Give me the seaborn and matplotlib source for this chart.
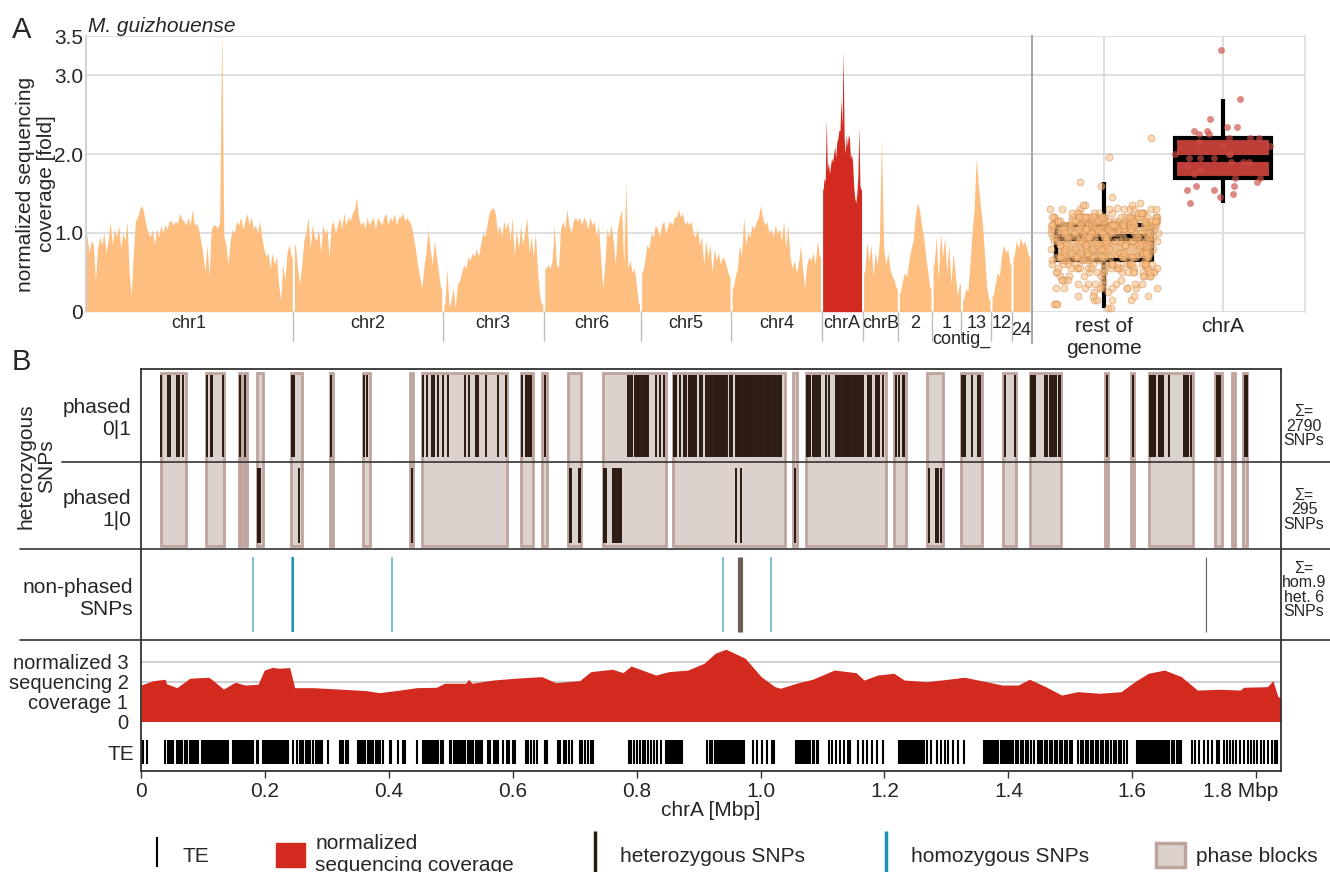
import matplotlib.pyplot as plt
import matplotlib.transforms as mtransforms
from matplotlib import font_manager
from matplotlib.colors import to_rgba
from matplotlib.lines import Line2D
from matplotlib.patches import Patch, Rectangle
import numpy as np
import pandas as pd
import seaborn as sns


# 1. Data - panel A: normalized coverage per window (100 kb, chrA 50 kb)

chrom_labels = ["chr1", "chr2", "chr3", "chr6", "chr5", "chr4", "chrA", "chrB",
                "2", "1", "13", "12", "24"]
chrom_window = [0.1, 0.1, 0.1, 0.1, 0.1, 0.1, 0.05, 0.1, 0.1, 0.1, 0.1, 0.1, 0.1]

cov_chr1 = [0.95, 0.75, 0.9, 0.85, 0.4, 0.8, 0.95, 0.85, 1.0, 0.75,
            0.9, 1.15, 0.85, 1.05, 0.95, 1.1, 0.8, 1.0, 0.9, 1.15,
            0.5, 0.2, 0.75, 1.15, 1.2, 1.3, 1.35, 1.25, 1.1, 1.0,
            0.95, 1.05, 0.85, 1.05, 0.95, 1.1, 1.0, 1.1, 1.05, 1.15,
            1.15, 1.1, 1.15, 1.12, 1.25, 1.18, 1.15, 1.1, 1.2, 1.1,
            1.3, 1.1, 1.12, 1.05, 0.9, 0.75, 0.5, 0.85, 0.45, 1.05,
            1.1, 1.1, 1.05, 1.15, 3.6, 0.95, 0.85, 0.6, 0.9, 1.05,
            1.0, 1.15, 1.1, 1.2, 1.05, 1.15, 1.25, 1.1, 1.2, 1.05,
            1.1, 1.0, 1.15, 0.95, 0.8, 0.7, 0.75, 0.55, 0.75, 0.6,
            0.7, 0.35, 0.15, 0.6, 0.4, 0.75, 0.85, 0.7]
cov_chr2 = [0.85, 0.55, 0.35, 0.6, 0.9, 1.0, 1.2, 0.8, 1.1, 0.95,
            0.9, 1.05, 0.75, 1.1, 1.0, 1.05, 0.7, 1.1, 1.15, 1.0,
            1.1, 1.2, 1.05, 1.25, 1.1, 1.2, 1.15, 1.25, 1.3, 1.45,
            1.2, 1.1, 1.15, 1.05, 1.2, 1.1, 1.15, 1.2, 1.05, 1.2,
            1.15, 1.1, 1.2, 1.25, 1.1, 1.2, 1.15, 1.25, 1.1, 1.2,
            1.2, 1.25, 1.15, 1.2, 1.15, 1.1, 0.95, 0.8, 0.6, 0.45,
            0.3, 0.55, 0.75, 1.05, 0.8, 0.6, 0.9, 0.7, 0.5, 0.3]
cov_chr3 = [0.1, 0.55, 0.05, 0.15, 0.3, 0.05, 0.35, 0.4, 0.5, 0.6,
            0.55, 0.7, 0.65, 0.75, 0.7, 0.8, 0.7, 0.85, 1.0, 0.95,
            1.1, 1.25, 1.3, 1.32, 1.25, 1.0, 1.1, 0.95, 1.15, 1.05,
            1.15, 0.9, 1.2, 0.7, 1.05, 0.8, 1.1, 0.85, 1.0, 1.2,
            0.75, 0.95, 0.7, 1.0, 0.55, 0.2, 0.1]
cov_chr6 = [0.55, 0.6, 0.55, 0.65, 1.1, 0.6, 0.55, 1.05, 1.15, 1.05,
            1.3, 1.1, 1.0, 1.15, 1.2, 1.15, 1.2, 1.1, 1.2, 1.15,
            1.05, 1.2, 1.1, 1.15, 0.95, 1.1, 0.7, 0.3, 0.6, 1.05,
            0.95, 1.1, 0.9, 0.6, 1.05, 1.2, 1.3, 0.6, 1.65, 0.55,
            0.65, 0.5, 0.55, 0.35, 0.1]
cov_chr5 = [0.5, 0.65, 0.85, 0.8, 1.0, 0.95, 1.1, 1.05, 0.95, 1.1,
            1.15, 1.0, 1.1, 1.15, 1.1, 1.2, 1.2, 1.3, 1.2, 1.25,
            1.1, 1.15, 1.1, 1.15, 1.0, 0.95, 1.05, 0.85, 0.95, 0.6,
            0.9, 0.7, 0.85, 0.5, 0.8, 0.65, 0.75, 0.6, 0.7, 0.65,
            0.55, 0.45]
cov_chr4 = [0.3, 0.45, 0.55, 0.85, 0.7, 1.2, 0.85, 1.0, 0.95, 1.1,
            1.05, 1.15, 1.2, 1.35, 1.2, 1.1, 1.15, 1.0, 1.05, 0.95,
            1.1, 1.0, 1.05, 0.9, 1.15, 0.8, 1.1, 0.7, 0.55, 0.65,
            0.5, 0.6, 0.85, 0.55, 0.3, 0.6, 0.7, 0.65, 0.75, 0.6,
            0.9, 0.7]
cov_chrA = [1.55, 1.7, 1.65, 2.45, 1.8, 1.9, 1.75, 1.85, 1.95, 1.9,
            2.0, 2.1, 1.95, 2.15, 2.2, 2.3, 2.3, 2.7, 2.35, 3.32,
            2.2, 2.0, 2.25, 2.1, 2.25, 2.2, 1.95, 2.0, 1.9, 1.6,
            1.45, 1.38, 1.5, 1.7, 2.35, 1.6, 1.55]
cov_chrB = [0.5, 0.9, 0.65, 0.85, 0.45, 0.75, 0.6, 0.9, 2.2, 0.8,
            0.6, 0.75, 0.55, 0.45, 0.4, 0.3]
cov_contig2 = [0.25, 0.4, 0.5, 0.45, 0.65, 0.8, 0.9, 1.2, 1.38, 1.3,
               1.1, 0.95, 0.7, 0.5, 0.3]
cov_contig1 = [0.6, 0.95, 0.4, 1.0, 0.7, 0.95, 0.5, 0.85, 0.35, 0.75,
               0.5, 0.2, 0.35]
cov_contig13 = [0.15, 0.3, 0.25, 0.6, 1.0, 1.3, 1.96, 1.6, 1.35, 1.1,
                0.7, 0.3, 0.15]
cov_contig12 = [0.2, 0.35, 0.5, 0.45, 0.7, 0.85, 0.75, 0.8, 0.6]
cov_contig24 = [0.7, 0.9, 0.8, 0.95, 0.85, 0.9, 0.8, 0.7]

chrom_cov = [cov_chr1, cov_chr2, cov_chr3, cov_chr6, cov_chr5, cov_chr4, cov_chrA,
             cov_chrB, cov_contig2, cov_contig1, cov_contig13, cov_contig12, cov_contig24]

genome_ticks = [0, 1, 2, 3, 3.5]
genome_tick_labels = ["0", "1.0", "2.0", "3.0", "3.5"]
box_order = ["rest of\ngenome", "chrA"]


# 2. Data - panel B: chrA (positions in Mbp)

block_start = [0.032, 0.105, 0.158, 0.166, 0.187, 0.242, 0.305, 0.358, 0.434, 0.453,
               0.613, 0.648, 0.690, 0.745, 0.858, 1.053, 1.073, 1.216, 1.269, 1.324,
               1.392, 1.435, 1.556, 1.598, 1.627, 1.734, 1.761, 1.779]
block_end = [0.073, 0.134, 0.161, 0.171, 0.197, 0.260, 0.310, 0.369, 0.439, 0.590,
             0.632, 0.655, 0.710, 0.847, 1.040, 1.058, 1.203, 1.235, 1.294, 1.358,
             1.413, 1.485, 1.561, 1.603, 1.698, 1.744, 1.765, 1.785]

snp_phased_01 = [
    0.0323, 0.0435, 0.0460, 0.0581, 0.0613, 0.0677,
    0.1069, 0.1129, 0.1140, 0.1150, 0.1318, 0.1597, 0.1682,
    0.2435, 0.2452, 0.2468, 0.3065, 0.3597, 0.3640,
    0.4553, 0.4624, 0.4689, 0.4726, 0.4795, 0.4876, 0.4956, 0.5226, 0.5295, 0.5403,
    0.5440, 0.5565, 0.5763, 0.5887,
    0.6156, 0.6210, 0.6234, 0.6258, 0.6274, 0.6302, 0.6516,
    0.7860, 0.7887, 0.7931, 0.7968, 0.8000, 0.8019, 0.8037, 0.8076, 0.8102, 0.8129,
    0.8156, 0.8182, 0.8306, 0.8371, 0.8440,
    0.8597, 0.8618, 0.8640, 0.8694, 0.8763, 0.8802, 0.8844, 0.8868, 0.8892, 0.8916,
    0.8940, 0.8963, 0.9016, 0.9060, 0.9124, 0.9150, 0.9177, 0.9205, 0.9231, 0.9258,
    0.9282, 0.9306, 0.9331, 0.9355, 0.9379, 0.9403, 0.9431, 0.9456, 0.9500, 0.9544,
    0.9597, 0.9618, 0.9640, 0.9661, 0.9689, 0.9715, 0.9742, 0.9769, 0.9794, 0.9818,
    0.9842, 0.9866, 0.9890, 0.9915, 0.9939, 0.9963, 0.9987, 1.0011, 1.0037, 1.0065,
    1.0092, 1.0118, 1.0145, 1.0173, 1.0198, 1.0226, 1.0253, 1.0279, 1.0306, 1.0334,
    1.0747, 1.0769, 1.0790, 1.0844, 1.0868, 1.0892, 1.0916, 1.0940, 1.0963, 1.1060,
    1.1102, 1.1221, 1.1242, 1.1263, 1.1302, 1.1327, 1.1355, 1.1382, 1.1408, 1.1435,
    1.1463, 1.1489, 1.1516, 1.1544, 1.1569, 1.1597, 1.1624, 1.1650, 1.1731, 1.1758,
    1.1785, 1.1866, 1.1892, 1.1919, 1.1973,
    1.2189, 1.2242, 1.2295, 1.2323,
    1.3253, 1.3279, 1.3306, 1.3415, 1.3511, 1.3544, 1.3940, 1.4113,
    1.4371, 1.4392, 1.4415, 1.4435, 1.4592, 1.4618, 1.4673, 1.4697, 1.4721, 1.4745,
    1.4769, 1.4811, 1.4839, 1.5585, 1.6005,
    1.6285, 1.6306, 1.6329, 1.6350, 1.6371, 1.6424, 1.6445, 1.6468, 1.6489, 1.6585,
    1.6839, 1.6860, 1.6881, 1.6898, 1.6947, 1.7371, 1.7395, 1.7415, 1.7823, 1.7847]
snp_phased_10 = [0.1895, 0.1911, 0.1927, 0.2553, 0.4366, 0.6931, 0.6940, 0.7069, 0.7078,
                 0.7468, 0.7500, 0.7618, 0.7645, 0.7673, 0.7698, 0.7726, 0.7753,
                 0.9608, 0.9689, 1.0548, 1.2715, 1.2834, 1.2866, 1.2919]
snp_hom = [0.1806, 0.2444, 0.2448, 0.2452, 0.2456, 0.2460, 0.4048, 0.9387, 1.0161]
snp_het_unphased = [0.9629, 0.9645, 0.9661, 0.9677, 0.9694, 1.7185]

cov_pos = [0.0, 0.020, 0.039, 0.041, 0.058, 0.079, 0.109, 0.114, 0.133, 0.152,
           0.168, 0.189, 0.199, 0.213, 0.221, 0.240, 0.248, 0.278, 0.326, 0.364,
           0.385, 0.418, 0.445, 0.477, 0.490, 0.498, 0.524, 0.529, 0.534, 0.568,
           0.603, 0.647, 0.669, 0.708, 0.726, 0.761, 0.778, 0.791, 0.831, 0.852,
           0.883, 0.909, 0.927, 0.944, 0.975, 1.001, 1.023, 1.032, 1.058, 1.084,
           1.119, 1.154, 1.167, 1.189, 1.215, 1.232, 1.268, 1.303, 1.329, 1.364,
           1.390, 1.416, 1.434, 1.460, 1.486, 1.512, 1.547, 1.582, 1.604, 1.626,
           1.652, 1.679, 1.705, 1.740, 1.774, 1.780, 1.818, 1.827, 1.835, 1.84]
cov_val = [1.83, 2.05, 2.12, 1.9, 1.7, 2.17, 2.22, 2.12, 1.63, 1.97,
           1.83, 1.87, 2.58, 2.72, 2.67, 2.7, 1.7, 1.7, 1.62, 1.55,
           1.45, 1.58, 1.7, 1.72, 1.92, 1.92, 1.92, 2.12, 1.92, 2.08,
           2.17, 2.25, 1.95, 2.05, 2.5, 2.62, 2.45, 2.78, 2.33, 2.5,
           2.58, 2.92, 3.42, 3.62, 3.17, 2.25, 1.75, 1.67, 1.92, 2.12,
           2.58, 2.45, 2.08, 2.33, 2.42, 2.08, 2.0, 2.12, 2.22, 2.0,
           1.83, 1.83, 2.12, 1.75, 1.33, 1.5, 1.42, 1.5, 2.0, 2.42,
           2.58, 2.25, 1.58, 1.62, 1.58, 1.72, 1.75, 2.05, 1.25, 1.2]

te_pos = [
    0.001, 0.004, 0.010,
    0.039, 0.043, 0.047, 0.050, 0.052, 0.058, 0.061, 0.063, 0.066, 0.071, 0.074,
    0.079, 0.082, 0.085, 0.089, 0.092,
    0.098, 0.101, 0.105, 0.108, 0.111, 0.113, 0.116, 0.119, 0.122, 0.125, 0.128,
    0.131, 0.134, 0.137, 0.140,
    0.148, 0.152, 0.155, 0.158, 0.162, 0.165, 0.168, 0.171, 0.174, 0.177, 0.180,
    0.187, 0.189,
    0.197, 0.200, 0.203, 0.206, 0.209, 0.212, 0.215, 0.218, 0.221, 0.224, 0.227,
    0.231, 0.234, 0.238,
    0.245, 0.251, 0.256, 0.258, 0.262, 0.267, 0.270, 0.272, 0.278, 0.283, 0.286,
    0.289, 0.292, 0.302, 0.321, 0.323, 0.326, 0.331, 0.334,
    0.350, 0.353, 0.356, 0.359, 0.362, 0.366, 0.369, 0.372, 0.375, 0.379, 0.383,
    0.386, 0.390, 0.402, 0.404, 0.415, 0.423, 0.426, 0.445,
    0.455, 0.458, 0.461, 0.464, 0.467, 0.470, 0.473, 0.476, 0.480, 0.484, 0.487,
    0.498, 0.501, 0.505, 0.508, 0.511, 0.514, 0.517, 0.520, 0.523, 0.527, 0.530,
    0.533, 0.536, 0.540, 0.544, 0.547, 0.551,
    0.560, 0.564, 0.569, 0.573, 0.577, 0.585, 0.590, 0.594, 0.600, 0.603,
    0.621, 0.625, 0.630, 0.635, 0.639, 0.652, 0.656,
    0.673, 0.677, 0.682, 0.686, 0.691, 0.695, 0.708, 0.712, 0.716, 0.721, 0.726, 0.730,
    0.787, 0.791, 0.795, 0.800, 0.805, 0.810, 0.813, 0.818, 0.823, 0.828, 0.833, 0.839,
    0.848, 0.851, 0.854, 0.857, 0.860, 0.863, 0.866, 0.869, 0.872, 0.874,
    0.914, 0.918, 0.922, 0.926, 0.930, 0.933, 0.936, 0.939, 0.942, 0.945, 0.948,
    0.951, 0.954, 0.957, 0.960, 0.963, 0.966, 0.969, 0.972, 0.974,
    0.988, 0.995, 1.003, 1.010, 1.018, 1.022,
    1.058, 1.061, 1.064, 1.067, 1.070, 1.073, 1.076, 1.080, 1.084, 1.087, 1.091, 1.093,
    1.110, 1.115, 1.121, 1.128, 1.134, 1.141, 1.145,
    1.158, 1.166, 1.172, 1.180, 1.188, 1.198,
    1.224, 1.227, 1.230, 1.233, 1.236, 1.239, 1.242, 1.245, 1.248, 1.251, 1.254,
    1.257, 1.260, 1.264, 1.268, 1.275,
    1.285, 1.291, 1.297, 1.303, 1.310, 1.318, 1.329,
    1.360, 1.363, 1.366, 1.369, 1.372, 1.375, 1.378, 1.381, 1.384, 1.388, 1.392,
    1.395, 1.398, 1.401, 1.404, 1.408, 1.412, 1.416, 1.420, 1.424, 1.428, 1.432,
    1.437, 1.442,
    1.447, 1.451, 1.455, 1.459, 1.463, 1.467, 1.471, 1.475, 1.479, 1.483, 1.487,
    1.491, 1.495, 1.499, 1.503,
    1.513, 1.517, 1.521, 1.525, 1.529, 1.533, 1.537, 1.541, 1.545, 1.549, 1.553,
    1.557, 1.561, 1.566, 1.570, 1.574, 1.578, 1.582, 1.586, 1.591,
    1.608, 1.611, 1.614, 1.617, 1.620, 1.623, 1.626, 1.629, 1.632, 1.635, 1.638,
    1.641, 1.644, 1.647, 1.650, 1.653, 1.656, 1.660, 1.664, 1.668, 1.672, 1.676, 1.679,
    1.696, 1.702, 1.708, 1.715, 1.722, 1.728, 1.737, 1.740,
    1.748, 1.753, 1.758, 1.763, 1.768, 1.774, 1.780, 1.786, 1.791, 1.797, 1.802,
    1.808, 1.813, 1.819, 1.825, 1.830, 1.834]

chrA_length = 1.84
chrA_ticks = [0, 0.2, 0.4, 0.6, 0.8, 1.0, 1.2, 1.4, 1.6, 1.8]
chrA_tick_labels = ["0", "0.2", "0.4", "0.6", "0.8", "1.0", "1.2", "1.4", "1.6", "1.8 Mbp"]
cov_ticks = [0, 1, 2, 3]
cov_tick_labels = ["0", "coverage 1", "sequencing 2", "normalized 3"]


# 3. Style

ORANGE = "#fdbe80"
RED = "#d32a1f"
BLOCK_FILL = "#dbd1cd"
BLOCK_EDGE = "#bfa39d"
HET = "#2a1a10"
HOM = "#1a93b0"
FRAME = "#333333"

sns.set_theme(style="white")
plt.rcParams["font.family"] = ["Liberation Sans", "DejaVu Sans"]
installed = {f.name for f in font_manager.fontManager.ttflist}
NARROW = "Liberation Sans Narrow" if "Liberation Sans Narrow" in installed else "Liberation Sans"

W, H = 1330, 872
fig = plt.figure(figsize=(W / 100, H / 100), dpi=100)


def add_axes_px(left, top, right, bottom):
    return fig.add_axes([left / W, 1 - bottom / H, (right - left) / W, (bottom - top) / H])


def hline_px(y, x0, x1, color=FRAME, lw=1.2):
    fig.add_artist(Line2D([x0 / W, x1 / W], [1 - y / H, 1 - y / H], color=color, lw=lw))


# 4. Panel A - coverage along the genome

ax_a = add_axes_px(86, 36, 1032, 311.7)
gap = 0.1
offset = 0.0
spans = []
for label, vals, w in zip(chrom_labels, chrom_cov, chrom_window):
    n = len(vals)
    x = offset + (np.arange(n) + 0.5) * w
    xs = np.r_[offset, x, offset + n * w]
    ys = np.r_[vals[0], vals, vals[-1]]
    ax_a.fill_between(xs, 0, ys, color=RED if label == "chrA" else ORANGE, lw=0)
    spans.append((offset, offset + n * w))
    offset += n * w + gap

ax_a.set_xlim(0, offset - gap + 0.1)
ax_a.set_ylim(0, 3.5)
ax_a.set_xticks([])
ax_a.set_yticks(genome_ticks, genome_tick_labels, fontfamily=NARROW)
ax_a.tick_params(axis="y", length=0, labelsize=15, pad=2)
ax_a.yaxis.grid(True, color="#dcdcdc", lw=1.3)
ax_a.set_axisbelow(True)
for side in ["top", "right", "bottom"]:
    ax_a.spines[side].set_visible(False)
ax_a.spines["left"].set_color("#cccccc")

# chromosome names and separators under the axis
trans_a = mtransforms.blended_transform_factory(ax_a.transData, ax_a.transAxes)
for i, (label, (s, e)) in enumerate(zip(chrom_labels, spans)):
    y_lab = -0.068 if label == "24" else -0.043
    ax_a.text((s + e) / 2, y_lab, label, transform=trans_a, ha="center", va="center",
              fontsize=13)
    if i < len(spans) - 1:
        xb = e + gap / 2
        ax_a.plot([xb, xb], [0, -0.105], transform=trans_a, color="#bdbdbd", lw=1,
                  clip_on=False)
contig_mid = (spans[chrom_labels.index("1")][0] + spans[chrom_labels.index("13")][1]) / 2
ax_a.text(contig_mid, -0.1, "contig_", transform=trans_a, ha="center", va="center",
          fontsize=13)

# box plot: rest of genome vs chrA
rest_values = [v for label, vals in zip(chrom_labels, chrom_cov) if label != "chrA" for v in vals]
box_df = pd.DataFrame({
    "group": [box_order[0]] * len(rest_values) + [box_order[1]] * len(cov_chrA),
    "coverage": rest_values + cov_chrA,
})

ax_b = add_axes_px(1032, 36, 1305, 311.7)
sns.boxplot(data=box_df, x="group", y="coverage", order=box_order, hue="group",
            hue_order=box_order, palette={box_order[0]: ORANGE, box_order[1]: RED},
            width=0.8, showfliers=False, linecolor="black", linewidth=3,
            medianprops={"linewidth": 5}, capprops={"linewidth": 0},
            legend=False, ax=ax_b)
for patch in ax_b.patches:
    if np.allclose(patch.get_facecolor()[:3], to_rgba(ORANGE)[:3], atol=0.02):
        patch.set_edgecolor(ORANGE)
sns.stripplot(data=box_df[box_df["group"] == box_order[0]], x="group", y="coverage",
              order=box_order, color=ORANGE, edgecolor="#c78850", linewidth=0.6,
              size=5, alpha=0.55, jitter=0.45, ax=ax_b)
sns.stripplot(data=box_df[box_df["group"] == box_order[1]], x="group", y="coverage",
              order=box_order, color="#cc4a44", linewidth=0, size=5, alpha=0.65,
              jitter=0.42, ax=ax_b)
ax_b.set_xlim(-0.605, 1.689)
ax_b.set_ylim(0, 3.5)
ax_b.set_xlabel("")
ax_b.set_ylabel("")
ax_b.set_yticks(genome_ticks, [])
ax_b.grid(True, color="#dcdcdc", lw=1.3)
ax_b.set_axisbelow(True)
ax_b.tick_params(length=0, labelsize=15, pad=4)
ax_b.spines["top"].set_visible(False)
ax_b.spines["bottom"].set_visible(False)
ax_b.spines["right"].set_color("#dddddd")
ax_b.spines["left"].set_color("#a8a8a8")
ax_b.spines["left"].set_linewidth(1.5)
ax_b.plot([0, 0], [0, -0.115], transform=ax_b.transAxes, color="#a8a8a8", lw=1.5,
          clip_on=False)

fig.text(12 / W, 1 - 16 / H, "A", fontsize=21, va="top")
fig.text(88 / W, 1 - 32 / H, "M. guizhouense", fontsize=15, style="italic", va="baseline")
fig.text(36 / W, 1 - 184 / H, "normalized sequencing\ncoverage [fold]", fontsize=15,
         rotation=90, ha="center", va="center", linespacing=1.1)


# 5. Panel B - chrA phasing, SNPs, coverage and TEs

ax_ph = add_axes_px(141, 369, 1281, 549)
ax_np = add_axes_px(141, 549, 1281, 640)
ax_cv = add_axes_px(141, 640, 1281, 721.7)
ax_te = add_axes_px(141, 721.7, 1281, 771)

for ax in [ax_ph, ax_np, ax_cv, ax_te]:
    ax.set_xlim(0, chrA_length)
    for side in ["top", "bottom"]:
        ax.spines[side].set_visible(False)
    for side in ["left", "right"]:
        ax.spines[side].set_color(FRAME)
        ax.spines[side].set_linewidth(1.3)
    ax.tick_params(axis="y", length=0, labelsize=15)

# phase blocks with phased heterozygous SNPs
for s, e in zip(block_start, block_end):
    ax_ph.add_patch(Rectangle((s, 0.035), e - s, 1.99, facecolor=BLOCK_FILL,
                              edgecolor=BLOCK_EDGE, lw=2))
ax_ph.vlines(snp_phased_01, 1.06, 2.0, color=HET, lw=1.4)
ax_ph.vlines(snp_phased_10, 0.07, 0.93, color=HET, lw=1.4)
ax_ph.set_ylim(0, 2.07)
ax_ph.set_xticks([])
ax_ph.set_yticks([1.54, 0.5], ["phased\n0|1", "phased\n1|0"])
ax_ph.tick_params(axis="y", pad=7)
ax_ph.spines["top"].set_visible(True)
ax_ph.spines["top"].set_color(FRAME)
ax_ph.spines["top"].set_linewidth(1.3)

# non-phased SNPs
ax_np.vlines(snp_hom, 0.088, 0.912, color=HOM, lw=1.3, alpha=0.6)
ax_np.vlines(snp_het_unphased, 0.088, 0.912, color="#4a3a32", lw=0.8, alpha=0.8)
ax_np.set_ylim(0, 1)
ax_np.set_xticks([])
ax_np.set_yticks([0.5], ["non-phased\nSNPs"])
ax_np.tick_params(axis="y", pad=6)

# coverage along chrA
ax_cv.fill_between(cov_pos, 0, cov_val, color=RED, lw=0)
ax_cv.set_ylim(0, 4.08)
ax_cv.set_xticks([])
ax_cv.set_yticks(cov_ticks, cov_tick_labels)
ax_cv.tick_params(axis="y", pad=9, labelsize=14.5)
ax_cv.yaxis.grid(True, color="#cccccc", lw=1.3)
ax_cv.set_axisbelow(True)

# transposable elements
ax_te.vlines(te_pos, 0.14, 0.63, color="black", lw=1.5)
ax_te.set_ylim(0, 1)
ax_te.set_yticks([0.385], ["TE"])
ax_te.tick_params(axis="y", pad=5)
ax_te.spines["bottom"].set_visible(True)
ax_te.spines["bottom"].set_color(FRAME)
ax_te.spines["bottom"].set_linewidth(1.3)
ax_te.set_xticks(chrA_ticks, chrA_tick_labels)
ax_te.tick_params(axis="x", bottom=True, length=5, width=1, color=FRAME,
                  labelsize=15, pad=3)
last = ax_te.get_xticklabels()[-1]
last.set_transform(last.get_transform()
                   + mtransforms.ScaledTranslation(-0.16, 0, fig.dpi_scale_trans))
ax_te.set_xlabel("chrA [Mbp]", fontsize=15, labelpad=0)

# frame lines running across the panel
hline_px(462, 62, 1330)
hline_px(549, 20, 1330)
hline_px(640, 20, 1330)

fig.text(12 / W, 1 - 348 / H, "B", fontsize=21, va="top")
fig.text(36 / W, 1 - 466 / H, "heterozygous\nSNPs", fontsize=15, rotation=90,
         ha="center", va="center", linespacing=1.1)
for y_px, txt in [(426, "Σ=\n2790\nSNPs"), (510, "Σ=\n295\nSNPs"),
                  (590, "Σ=\nhom.9\nhet. 6\nSNPs")]:
    fig.text(1304 / W, 1 - y_px / H, txt, fontsize=11.5, ha="center", va="center",
             linespacing=0.92)


# 6. Legend

handles = [
    Line2D([], [], color="black", marker="|", ls="None", markersize=22, markeredgewidth=1.5),
    Patch(facecolor=RED, edgecolor=RED),
    Line2D([], [], color=HET, marker="|", ls="None", markersize=30, markeredgewidth=2.5),
    Line2D([], [], color=HOM, marker="|", ls="None", markersize=30, markeredgewidth=2.5),
    Patch(facecolor=BLOCK_FILL, edgecolor=BLOCK_EDGE, lw=2.5),
]
labels = ["TE", "normalized\nsequencing coverage", "heterozygous SNPs",
          "homozygous SNPs", "phase blocks"]
fig.legend(handles, labels, loc="center", bbox_to_anchor=(730 / W, 1 - 854 / H),
           ncol=5, frameon=False, fontsize=15, columnspacing=3.2, handlelength=1.4,
           handleheight=1.4, handletextpad=0.5, labelspacing=0.2)

fig.savefig("out.png", dpi=100)
